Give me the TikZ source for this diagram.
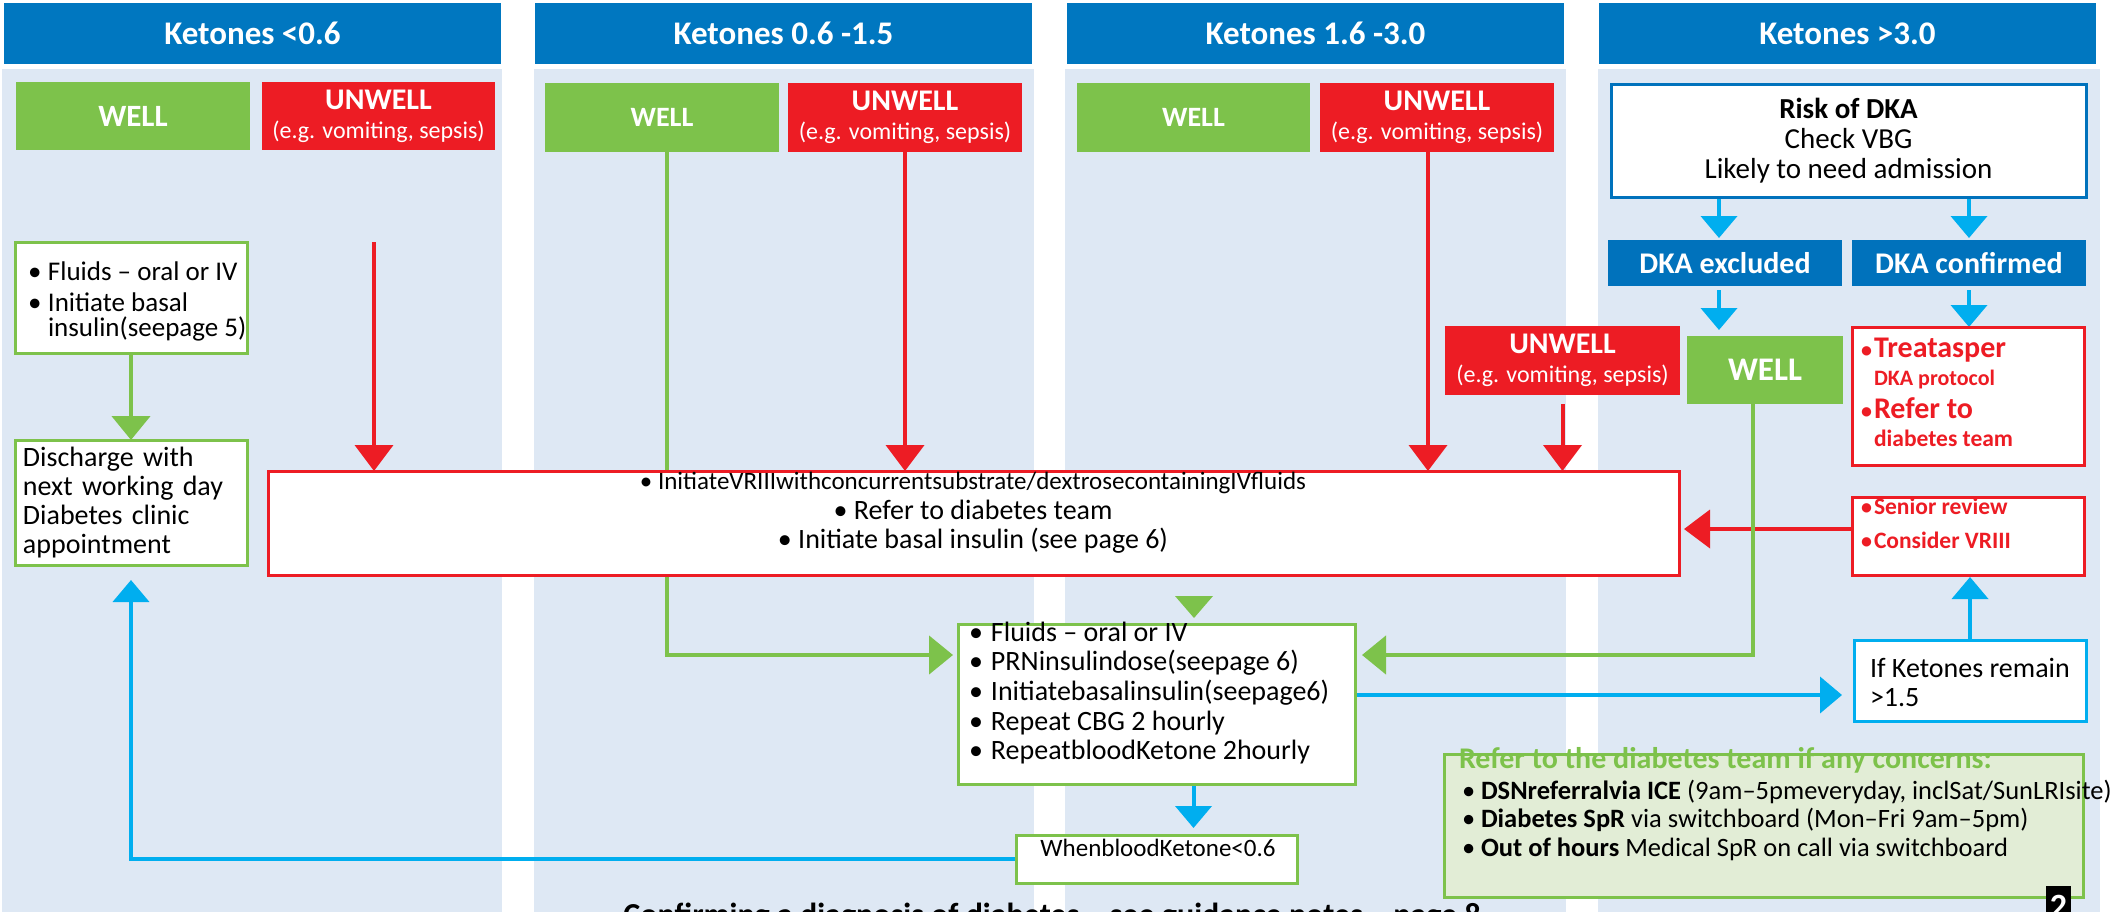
\documentclass[tikz,border=0pt]{standalone}
\usepackage{fontspec}
\setmainfont{Carlito}
\usetikzlibrary{arrows.meta,calc}
\definecolor{hdrblue}{RGB}{0,119,192}
\definecolor{colbg}{RGB}{222,232,244}
\definecolor{okgreen}{RGB}{125,194,75}
\definecolor{badred}{RGB}{237,28,36}
\definecolor{cyanarr}{RGB}{0,174,239}
\definecolor{dkablue}{RGB}{0,114,188}
\definecolor{referfill}{RGB}{226,237,214}
\newcommand{\fs}[2]{\fontsize{#1}{#2}\selectfont}
\newcommand{\bulw}[1]{\makebox[#1][l]{\textbullet}}
\newcommand{\rbul}{\makebox[13pt][l]{\fs{22}{22}\textbullet}}
\pgfdeclarelayer{back}
\pgfdeclarelayer{mid}
\pgfsetlayers{back,mid,main}
\begin{document}
\begin{tikzpicture}[x=1pt,y=-1pt,
 every node/.style={inner sep=0pt,outer sep=0pt},
 hdr/.style={fill=hdrblue,text=white,font=\fs{33}{34}\bfseries,anchor=north west,minimum width=497pt,minimum height=61pt},
 wellbox/.style={fill=okgreen,text=white,anchor=north west,font=\fs{31}{32}\bfseries},
 unwellbox/.style={fill=badred,text=white,anchor=north west,align=center,font=\fs{24}{29}},
 dkabox/.style={fill=dkablue,text=white,anchor=north west,font=\fs{30}{30}\bfseries,minimum width=234pt,minimum height=46pt},
 gbox/.style={draw=okgreen,line width=3pt,fill=white,anchor=north west},
 rbox/.style={draw=badred,line width=3pt,fill=white,anchor=north west},
 garr/.style={draw=okgreen,line width=4.5pt,-{Triangle[width=38pt,length=24pt]}},
 rarr/.style={draw=badred,line width=4pt,-{Triangle[width=38pt,length=26pt]}},
 barr/.style={draw=cyanarr,line width=4pt,-{Triangle[width=36pt,length=22pt]}},
]
\useasboundingbox (0,0) rectangle (2119,911);
\clip (0,0) rectangle (2119,911);

\begin{pgfonlayer}{back}
\fill[white] (0,0) rectangle (2119,911);
\fill[colbg] (2,69) rectangle (502,915);
\fill[colbg] (534,69) rectangle (1034,915);
\fill[colbg] (1065,69) rectangle (1566,915);
\fill[colbg] (1598,69) rectangle (2100,915);
\end{pgfonlayer}

% headers
\node[hdr] (h1) at (4,3) {Ketones <0.6};
\node[hdr] (h2) at (535,3) {Ketones 0.6 -1.5};
\node[hdr] (h3) at (1067,3) {Ketones 1.6 -3.0};
\node[hdr] (h4) at (1599,3) {Ketones >3.0};

% top boxes
\node[wellbox,minimum width=234pt,minimum height=68pt] (well1) at (16,82) {WELL};
\node[unwellbox,minimum width=233pt,minimum height=68pt] (unwell1) at (262,82) {{\fs{30}{30}\bfseries UNWELL}\\(e.g. vomiting, sepsis)};
\node[wellbox,minimum width=234pt,minimum height=69pt,font=\fs{28}{30}\bfseries] (well2) at (545,83) {WELL};
\node[unwellbox,minimum width=234pt,minimum height=69pt] (unwell2) at (788,83) {{\fs{30}{30}\bfseries UNWELL}\\(e.g. vomiting, sepsis)};
\node[wellbox,minimum width=233pt,minimum height=69pt,font=\fs{28}{30}\bfseries] (well3) at (1077,83) {WELL};
\node[unwellbox,minimum width=234pt,minimum height=69pt] (unwell3) at (1320,83) {{\fs{30}{30}\bfseries UNWELL}\\(e.g. vomiting, sepsis)};

% column 4
\node[draw=dkablue,line width=3pt,fill=white,anchor=north west,minimum width=475pt,minimum height=113pt,align=center,font=\fs{29}{30}] (risk) at (1611,84) {{\bfseries Risk of DKA}\\Check VBG\\Likely to need admission};
\node[dkabox] (dkaex) at (1608,240) {DKA excluded};
\node[dkabox] (dkaconf) at (1852,240) {DKA confirmed};
\node[unwellbox,minimum width=235pt,minimum height=69pt] (unwell4) at (1445,326) {{\fs{30}{30}\bfseries UNWELL}\\(e.g. vomiting, sepsis)};
\node[wellbox,minimum width=156pt,minimum height=68pt,font=\fs{33}{34}\bfseries] (well4) at (1687,336) {WELL};
\node[rbox,minimum width=232pt,minimum height=138pt] (treat) at (1852,327) {};
\node[anchor=west,align=left,text=badred,font=\fs{30}{28}\bfseries] (treattxt) at (1861,392)
  {\rbul Treatasper\\ \hspace*{13pt}{\fs{22}{24}DKA protocol}\\[5pt] \rbul Refer to\\ \hspace*{13pt}{\fs{23.5}{24}diabetes team}};
\node[rbox,minimum width=232pt,minimum height=78pt] (senior) at (1852,497) {};
\node[anchor=west,align=left,text=badred,font=\fs{23.5}{34}\bfseries] (seniortxt) at (1861,523)
  {\rbul Senior review\\ \rbul Consider VRIII};
\node[draw=cyanarr,line width=3pt,fill=white,anchor=north west,minimum width=232pt,minimum height=81pt] (ifk) at (1854,640) {};
\node[anchor=west,align=left,font=\fs{28}{29}] (ifktxt) at (1870,682) {If Ketones remain\\>1.5};

% column 1
\node[gbox,minimum width=232pt,minimum height=111pt] (fluids1) at (15,242) {};
\node[anchor=west,align=left,font=\fs{27}{25}] (fluids1txt) at (28,301)
  {\bulw{20pt}Fluids – oral or IV\\[6pt] \bulw{20pt}Initiate basal\\ \hspace*{20pt}insulin(seepage 5)};
\node[gbox,minimum width=232pt,minimum height=125pt,align=left,text width=216pt,font=\fs{28}{29}] (discharge) at (15,440)
  {Discharge with\\next working day\\Diabetes clinic\\appointment};

% central boxes
\node[rbox,minimum width=1411pt,minimum height=104pt] (big) at (268,471) {};
\node[align=center,font=\fs{28}{29.5}] (bigtxt) at (973,513)
  {{\fs{25}{24}\textbullet\ InitiateVRIIIwithconcurrentsubstrate/dextrosecontainingIVfluids}\\ \textbullet\ Refer to diabetes team\\ \textbullet\ Initiate basal insulin (see page 6)};
\node[gbox,minimum width=397pt,minimum height=160pt] (center) at (958,624) {};
\node[anchor=west,align=left,font=\fs{28}{29.7}] (centertxt) at (969,693)
  {\bulw{22pt}Fluids – oral or IV\\ \bulw{22pt}PRNinsulindose(seepage 6)\\ \bulw{22pt}Initiatebasalinsulin(seepage6)\\ \bulw{22pt}Repeat CBG 2 hourly\\ \bulw{22pt}RepeatbloodKetone 2hourly};
\node[gbox,minimum width=281pt,minimum height=48pt] (when) at (1016,835) {};
\node[font=\fs{25}{28}] (whentxt) at (1158,848) {WhenbloodKetone<0.6};

% refer box
\node[draw=okgreen,line width=3pt,fill=referfill,anchor=north west,minimum width=639pt,minimum height=143pt] (refer) at (1444,754) {};
\node[anchor=west,text=okgreen,font=\fs{30}{30}\bfseries] (refertitle) at (1459,760) {Refer to the diabetes team if any concerns:};
\node[anchor=north west,align=left,font=\fs{26.5}{28.5}] (referitems) at (1462,780)
  {\bulw{19pt}\textbf{DSNreferralvia ICE} (9am–5pmeveryday, inclSat/SunLRIsite)\\
   \bulw{19pt}\textbf{Diabetes SpR} via switchboard (Mon–Fri 9am–5pm)\\
   \bulw{19pt}\textbf{Out of hours} Medical SpR on call via switchboard};
\node[fill=black,text=white,anchor=north west,minimum width=25pt,minimum height=40pt,font=\fs{34}{36}\bfseries] (pagenum) at (2046,886) {2};

% bottom text
\node[anchor=base,font=\fs{32}{32}\bfseries] (conf) at (1052,925) {Confirming a diagnosis of diabetes – see guidance notes – page 8};

% connectors
\begin{pgfonlayer}{mid}
\coordinate (r1s) at (374,242);
\draw[rarr] (r1s) -- (r1s |- big.north);
\draw[rarr] (unwell2.south) -- (unwell2.south |- big.north);
\draw[rarr] ([xshift=-9pt]unwell3.south) -- ([xshift=-9pt]unwell3.south |- big.north);
\draw[rarr] ([yshift=-9pt]unwell4.south) -- (unwell4.south |- big.north);
\draw[rarr,shorten >=5pt] ([yshift=7pt]senior.west) -- ([yshift=7pt]senior.west -| big.east);

\draw[garr] (fluids1.south) -- (discharge.north);
\draw[garr,shorten >=5pt] ([xshift=5pt]well2.south) |- ([yshift=49pt]center.west);
\draw[garr,shorten >=7pt] ([xshift=-12pt]well4.south) |- ([yshift=49pt]center.east);
\fill[okgreen] (1175,596) -- (1213,596) -- (1194,618) -- cycle;

\draw[barr,shorten >=7pt] ([xshift=37pt]center.south) -- ([xshift=37pt]center.south |- when.north);
\draw[barr,shorten >=12pt] ([yshift=9pt]center.east) -- ([yshift=9pt]center.east -| ifk.west);
\draw[barr,shorten >=2pt] (ifk.north) -- (ifk.north |- senior.south);
\draw[barr,shorten >=15pt] (when.west) -| (discharge.south);
\draw[barr,shorten >=2pt] ([xshift=-6pt]dkaex.north |- risk.south) -- ([xshift=-6pt]dkaex.north);
\draw[barr,shorten >=2pt] (dkaconf.north |- risk.south) -- (dkaconf.north);
\draw[barr,shorten >=6pt] ([xshift=-6pt,yshift=-4pt]dkaex.south) -- ([xshift=-6pt]dkaex.south |- well4.north);
\draw[barr] ([yshift=-4pt]dkaconf.south) -- (dkaconf.south |- treat.north);
\end{pgfonlayer}
\end{tikzpicture}
\end{document}
